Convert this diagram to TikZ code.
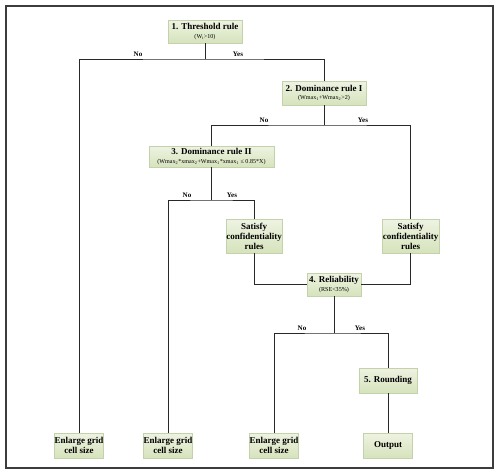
\documentclass[tikz,border=0pt]{standalone}
\usepackage{fontspec}
\setmainfont{Liberation Serif}
\definecolor{boxtop}{RGB}{238,243,226}
\definecolor{boxbot}{RGB}{214,227,188}
\definecolor{boxedge}{RGB}{196,210,172}
\definecolor{linec}{RGB}{40,40,40}
\definecolor{framec}{RGB}{60,60,60}
\begin{document}
\begin{tikzpicture}[x=1pt,y=-1pt,
  box/.style={draw=boxedge, line width=0.6pt, top color=boxtop, bottom color=boxbot,
    align=center, inner sep=0pt, font=\bfseries\fontsize{9}{10}\selectfont},
  lbl/.style={font=\bfseries\fontsize{7}{8}\selectfont, inner sep=0pt},
  conn/.style={draw=linec, line width=0.9pt}]
\useasboundingbox (0,0) rectangle (500,474);
\draw[line width=1.6pt, framec] (6,6) rectangle (493,468);

\newcommand{\smalltxt}[1]{{\normalfont\fontsize{6.1}{7}\selectfont #1}}

\node[box, minimum width=74, minimum height=23] (t) at (205,31.5)
  {1. Threshold rule\\[-1.5pt]\smalltxt{(W\textsubscript{i}>10)}};
\node[box, minimum width=84, minimum height=24] (d1) at (324,93)
  {2. Dominance rule I\\[-1.5pt]\smalltxt{(Wmax\textsubscript{1}+Wmax\textsubscript{2}>2)}};
\node[box, minimum width=125, minimum height=21] (d2) at (211.5,156.5)
  {3. Dominance rule II\\[-1.5pt]\smalltxt{(Wmax\textsubscript{2}*xmax\textsubscript{2}+Wmax\textsubscript{1}*xmax\textsubscript{1} ≤ 0.85*X)}};
\node[box, minimum width=56, minimum height=34] (s1) at (254,236)
  {Satisfy\\confidentiality\\rules};
\node[box, minimum width=57, minimum height=34] (s2) at (410.5,236)
  {Satisfy\\confidentiality\\rules};
\node[box, minimum width=54, minimum height=23] (r) at (334,284.5)
  {4. Reliability\\[-1.5pt]\smalltxt{(RSE<35\%)}};
\node[box, minimum width=58, minimum height=25] (ro) at (388,380.5) {5. Rounding};
\node[box, minimum width=49, minimum height=25] (o) at (388,445.5) {Output};
\node[box, minimum width=49, minimum height=25] (e1) at (79,445.5) {Enlarge grid\\cell size};
\node[box, minimum width=49, minimum height=25] (e2) at (168,445.5) {Enlarge grid\\cell size};
\node[box, minimum width=49, minimum height=25] (e3) at (274,445.5) {Enlarge grid\\cell size};

\coordinate (j1) at (205,59);
\coordinate (j2) at (324,125);
\coordinate (j3) at (211.5,200);
\coordinate (j4) at (334,333);

\draw[conn] (t.south) -- (j1);
\draw[conn] (e1.north) |- (j1) -| (d1.north);
\draw[conn] (d1.south) -- (j2);
\draw[conn] (d2.north) |- (j2) -| (s2.north);
\draw[conn] (d2.south) -- (j3);
\draw[conn] (e2.north) |- (j3) -| (s1.north);
\draw[conn] (s1.south) |- (r.west);
\draw[conn] (s2.south) |- (r.east);
\draw[conn] (r.south) -- (j4);
\draw[conn] (e3.north) |- (j4) -| (ro.north);
\draw[conn] (ro.south) -- (o.north);

\node[lbl] (n1) at (138,54) {No};
\node[lbl] (y1) at (238,54) {Yes};
\node[lbl] (n2) at (264,120) {No};
\node[lbl] (y2) at (363,120) {Yes};
\node[lbl] (n3) at (187,195) {No};
\node[lbl] (y3) at (232,195) {Yes};
\node[lbl] (n4) at (302,328) {No};
\node[lbl] (y4) at (360,328) {Yes};
\end{tikzpicture}
\end{document}
